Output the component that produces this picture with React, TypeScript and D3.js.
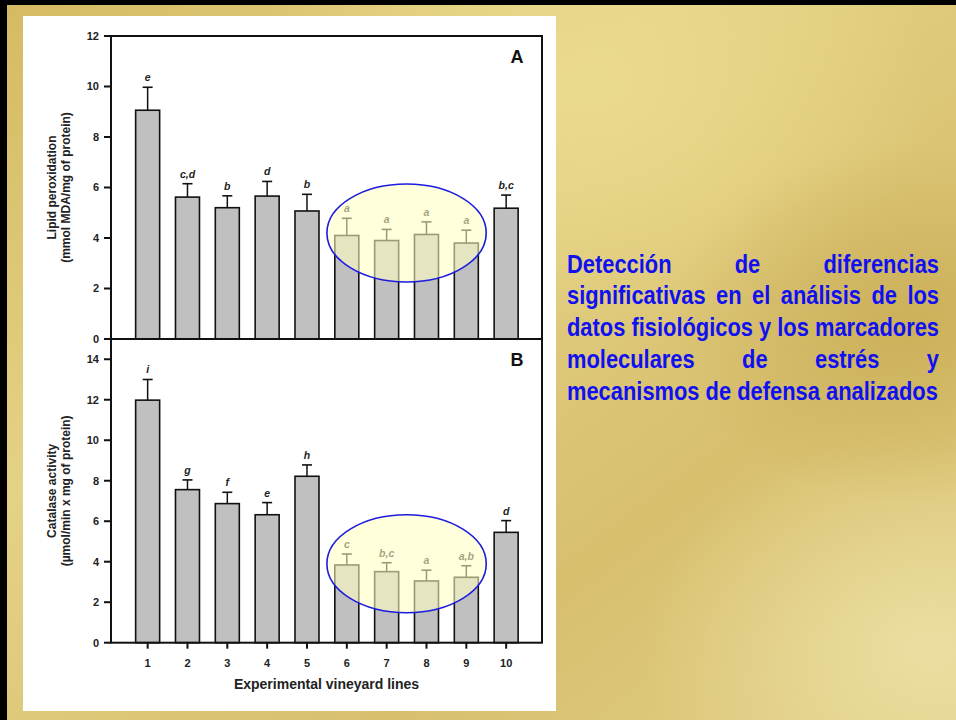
import React from 'react';
import * as d3 from 'd3';

// vineyard lines
const lines = [1, 2, 3, 4, 5, 6, 7, 8, 9, 10];

// panel A: lipid peroxidation
const lipidMean = [9.06, 5.62, 5.2, 5.66, 5.07, 4.1, 3.9, 4.14, 3.8, 5.18];
const lipidUpper = [9.97, 6.15, 5.67, 6.24, 5.73, 4.78, 4.34, 4.64, 4.31, 5.7];
const lipidLetters = ['e', 'c,d', 'b', 'd', 'b', 'a', 'a', 'a', 'a', 'b,c'];
const lipidTicks = [0, 2, 4, 6, 8, 10, 12];

// panel B: catalase activity
const catalaseMean = [11.98, 7.56, 6.87, 6.32, 8.22, 3.84, 3.51, 3.05, 3.23, 5.45];
const catalaseUpper = [13.0, 8.04, 7.43, 6.92, 8.78, 4.38, 3.95, 3.58, 3.8, 6.03];
const catalaseLetters = ['i', 'g', 'f', 'e', 'h', 'c', 'b,c', 'a', 'a,b', 'd'];
const catalaseTicks = [0, 2, 4, 6, 8, 10, 12, 14];

// slide text, line by line as on the slide
const slideLines = [
  'Detección de diferencias',
  'significativas en el análisis de los',
  'datos fisiológicos y los marcadores',
  'moleculares de estrés y',
  'mecanismos de defensa analizados',
];

const Width = 956;
const Height = 720;
const left = 111;
const right = 542;

const x = d3.scaleLinear().domain([0.08, 10.9]).range([left, right]);
const barW = 24;

const axisFont = 'Arial, "Liberation Sans", sans-serif';

type PanelProps = {
  mean: number[];
  upper: number[];
  letters: string[];
  ticks: number[];
  y: d3.ScaleLinear<number, number>;
  label: string;
  title: string[];
  highlight: { cx: number; cy: number; ry: number };
  showX: boolean;
};

const Panel = ({ mean, upper, letters, ticks, y, label, title, highlight, showX }: PanelProps) => {
  const [y0, y1] = y.range();
  const midY = (y0 + y1) / 2;
  const cx = x(highlight.cx);
  const cy = y(highlight.cy);
  const rx = x(2) - x(0);
  const ry = Math.abs(y(highlight.ry) - y(0));

  return (
    <g>
      {lines.map((d, i) => (
        <g key={d}>
          <rect
            x={x(d) - barW / 2}
            y={y(mean[i])}
            width={barW}
            height={y(0) - y(mean[i])}
            fill="#c0c0c0"
            stroke="#111"
            strokeWidth={1.6}
          />
          <line x1={x(d)} x2={x(d)} y1={y(mean[i])} y2={y(upper[i])} stroke="#111" strokeWidth={1.5} />
          <line x1={x(d) - 5} x2={x(d) + 5} y1={y(upper[i])} y2={y(upper[i])} stroke="#111" strokeWidth={1.6} />
          <text
            x={x(d)}
            y={y(upper[i]) - 6}
            textAnchor="middle"
            style={{ fontSize: '10.5px', fontStyle: 'italic', fontWeight: 'bold', fontFamily: axisFont }}
            fill="#222"
          >
            {letters[i]}
          </text>
        </g>
      ))}

      <ellipse
        cx={cx}
        cy={cy}
        rx={rx}
        ry={ry}
        fill="rgba(255,255,195,0.58)"
        stroke="#1c1ce0"
        strokeWidth={1.6}
      />

      {/* frame */}
      <rect x={left} y={y1} width={right - left} height={y0 - y1} fill="none" stroke="#111" strokeWidth={2} />

      {ticks.map((t) => (
        <g key={t} transform={`translate(0, ${y(t)})`}>
          <line x1={left - 7} x2={left} stroke="#111" strokeWidth={2} />
          <text
            x={left - 12}
            dy="0.35em"
            textAnchor="end"
            style={{ fontSize: '11px', fontWeight: 'bold', fontFamily: axisFont }}
            fill="#222"
          >
            {t}
          </text>
        </g>
      ))}

      {showX &&
        lines.map((d) => (
          <g key={d} transform={`translate(${x(d)}, ${y(0)})`}>
            <line y1={0} y2={6} stroke="#111" strokeWidth={2} />
            <text
              y={24}
              textAnchor="middle"
              style={{ fontSize: '11px', fontWeight: 'bold', fontFamily: axisFont }}
              fill="#222"
            >
              {d}
            </text>
          </g>
        ))}

      <text
        x={right - 25}
        y={y1 + 27}
        textAnchor="middle"
        style={{ fontSize: '18px', fontWeight: 'bold', fontFamily: axisFont }}
        fill="#111"
      >
        {label}
      </text>

      <text
        transform={`translate(56, ${midY}) rotate(-90)`}
        textAnchor="middle"
        style={{ fontSize: '12px', fontFamily: axisFont, fontWeight: 600 }}
        fill="#222"
      >
        <tspan x={0} dy={0}>{title[0]}</tspan>
        <tspan x={0} dy={14}>{title[1]}</tspan>
      </text>
    </g>
  );
};

const App = () => {
  const yA = d3.scaleLinear().domain([0, 12]).range([339, 36]);
  const yB = d3.scaleLinear().domain([0, 15]).range([642.7, 339]);

  const squeeze = 0.875;
  const textW = 372;

  return (
    <svg
      width={Width}
      height={Height}
      style={{ position: 'absolute', left: 0, top: 0, display: 'block' }}
    >
      <defs>
        <linearGradient id="gold" x1="0" y1="0" x2="1" y2="1">
          <stop offset="0" stopColor="#d4ba62" />
          <stop offset="0.35" stopColor="#e4d285" />
          <stop offset="0.7" stopColor="#d7bf6e" />
          <stop offset="1" stopColor="#e2cf86" />
        </linearGradient>
        <radialGradient id="glow1" cx="0.62" cy="0.12" r="0.35">
          <stop offset="0" stopColor="#ecdc90" stopOpacity="0.9" />
          <stop offset="1" stopColor="#ecdc90" stopOpacity="0" />
        </radialGradient>
        <radialGradient id="glow2" cx="0.97" cy="0.9" r="0.3">
          <stop offset="0" stopColor="#ece0a4" stopOpacity="0.9" />
          <stop offset="1" stopColor="#ece0a4" stopOpacity="0" />
        </radialGradient>
        <radialGradient id="dark1" cx="0.95" cy="0.45" r="0.25">
          <stop offset="0" stopColor="#c9ad55" stopOpacity="0.8" />
          <stop offset="1" stopColor="#c9ad55" stopOpacity="0" />
        </radialGradient>
      </defs>

      <rect x={0} y={0} width={Width} height={Height} fill="url(#gold)" />
      <rect x={0} y={0} width={Width} height={Height} fill="url(#glow1)" />
      <rect x={0} y={0} width={Width} height={Height} fill="url(#glow2)" />
      <rect x={0} y={0} width={Width} height={Height} fill="url(#dark1)" />
      <rect x={0} y={0} width={Width} height={5} fill="#000" />
      <rect x={0} y={0} width={7} height={Height} fill="#000" />

      <rect x={23} y={16} width={533} height={695} fill="#fff" />

      <Panel
        mean={lipidMean}
        upper={lipidUpper}
        letters={lipidLetters}
        ticks={lipidTicks}
        y={yA}
        label="A"
        title={['Lipid peroxidation', '(mmol MDA/mg of protein)']}
        highlight={{ cx: 7.5, cy: 4.2, ry: 1.94 }}
        showX={false}
      />
      <Panel
        mean={catalaseMean}
        upper={catalaseUpper}
        letters={catalaseLetters}
        ticks={catalaseTicks}
        y={yB}
        label="B"
        title={['Catalase activity', '(µmol/min x mg of protein)']}
        highlight={{ cx: 7.5, cy: 3.9, ry: 2.42 }}
        showX={true}
      />

      <text
        x={(left + right) / 2}
        y={689}
        textAnchor="middle"
        style={{ fontSize: '14px', fontWeight: 'bold', fontFamily: axisFont }}
        fill="#222"
      >
        Experimental vineyard lines
      </text>

      <foreignObject x={567} y={248.5} width={textW} height={180}>
        <div
          style={{
            width: `${textW / squeeze}px`,
            transform: `scaleX(${squeeze})`,
            transformOrigin: '0 0',
            color: '#1010f0',
            fontFamily: 'Arial, "Liberation Sans", sans-serif',
            fontWeight: 'bold',
            fontSize: '25px',
            lineHeight: '31.75px',
            whiteSpace: 'nowrap',
          }}
        >
          {slideLines.map((l, i) => (
            <div
              key={i}
              style={{
                textAlign: 'justify',
                textAlignLast: i < slideLines.length - 1 ? 'justify' : 'left',
                whiteSpace: 'normal',
              }}
            >
              {l}
            </div>
          ))}
        </div>
      </foreignObject>
    </svg>
  );
};

export default App;
